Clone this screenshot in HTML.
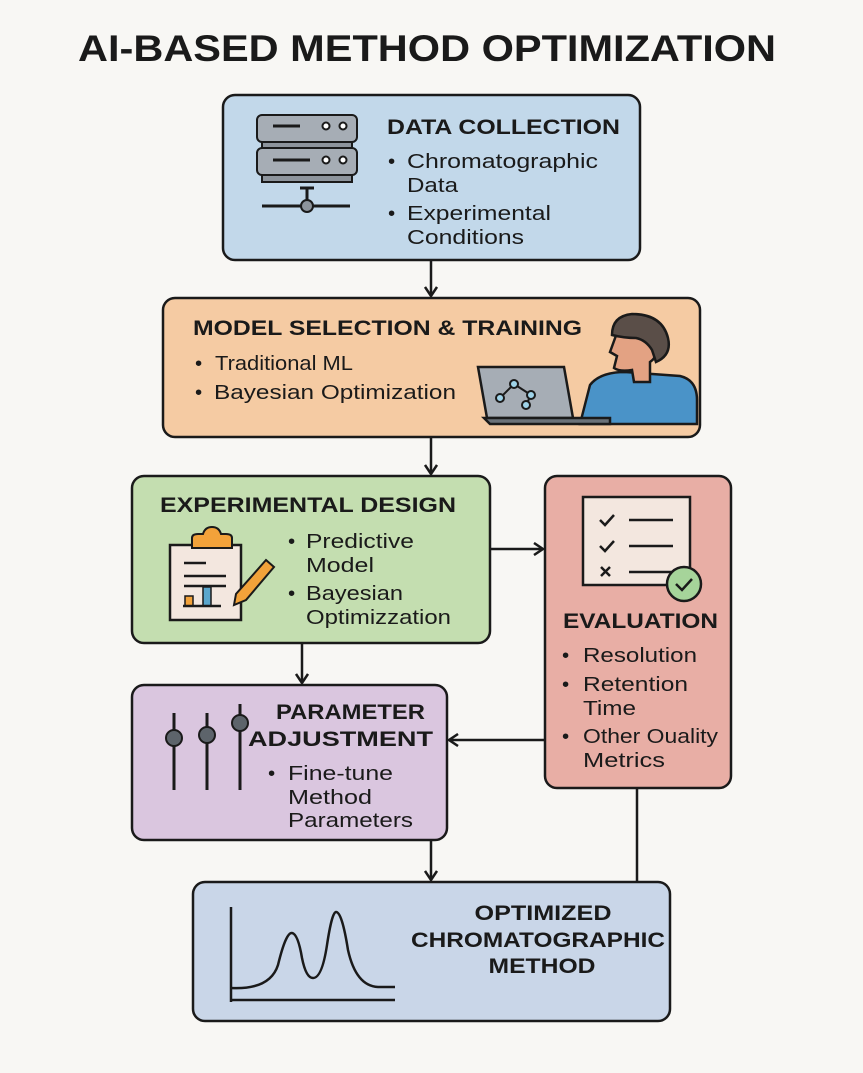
<!DOCTYPE html>
<html><head><meta charset="utf-8"><style>
html,body{margin:0;padding:0;background:#f8f7f4;}
svg{display:block;}
text{font-family:"Liberation Sans","DejaVu Sans",sans-serif;fill:#1a1a1a;}
.t{font-weight:bold;font-size:21px;}
.b{font-size:20.5px;}
</style></head><body>
<svg width="863" height="1073" viewBox="0 0 863 1073" xmlns="http://www.w3.org/2000/svg">
<rect width="863" height="1073" fill="#f8f7f4"/>
<defs>
<marker id="ar" markerWidth="14" markerHeight="14" refX="11" refY="7" orient="auto" markerUnits="userSpaceOnUse">
<path d="M2,1 L11,7 L2,13" fill="none" stroke="#1a1a1a" stroke-width="2.5"/>
</marker>
</defs>
<text x="427" y="61" text-anchor="middle" font-size="37" font-weight="bold" textLength="698" lengthAdjust="spacingAndGlyphs">AI-BASED METHOD OPTIMIZATION</text>

<g stroke="#1a1a1a" stroke-width="2.5" fill="none">
<line x1="431" y1="261" x2="431" y2="296" marker-end="url(#ar)"/>
<line x1="431" y1="438" x2="431" y2="474" marker-end="url(#ar)"/>
<line x1="490" y1="549" x2="543" y2="549" marker-end="url(#ar)"/>
<line x1="302" y1="644" x2="302" y2="683" marker-end="url(#ar)"/>
<line x1="545" y1="740" x2="449" y2="740" marker-end="url(#ar)"/>
<line x1="431" y1="841" x2="431" y2="880" marker-end="url(#ar)"/>
<line x1="637" y1="789" x2="637" y2="882"/>
</g>

<!-- Box 1 -->
<rect x="223" y="95" width="417" height="165" rx="12" fill="#c2d8ea" stroke="#1a1a1a" stroke-width="2.5"/>
<g stroke="#1a1a1a" stroke-width="2">
<rect x="262" y="135" width="90" height="16" fill="#8d949c"/>
<rect x="262" y="168" width="90" height="14" fill="#8d949c"/>
<rect x="257" y="115" width="100" height="27" rx="5" fill="#a6adb5"/>
<rect x="257" y="148" width="100" height="27" rx="5" fill="#a6adb5"/>
<line x1="273" y1="126" x2="300" y2="126" stroke-width="3"/>
<line x1="273" y1="160" x2="310" y2="160" stroke-width="3"/>
<circle cx="326" cy="126" r="3.5" fill="#fff"/><circle cx="343" cy="126" r="3.5" fill="#fff"/>
<circle cx="326" cy="160" r="3.5" fill="#fff"/><circle cx="343" cy="160" r="3.5" fill="#fff"/>
<line x1="307" y1="188" x2="307" y2="200" stroke-width="3"/>
<line x1="300" y1="188" x2="314" y2="188" stroke-width="3"/>
<line x1="262" y1="206" x2="350" y2="206" stroke-width="3"/>
<circle cx="307" cy="206" r="6" fill="#8d949c"/>
</g>
<text class="t" x="387" y="134" textLength="233" lengthAdjust="spacingAndGlyphs">DATA COLLECTION</text>
<text class="b" x="388" y="168">•</text><text class="b" x="407" y="168" textLength="191" lengthAdjust="spacingAndGlyphs">Chromatographic</text>
<text class="b" x="407" y="192" textLength="51" lengthAdjust="spacingAndGlyphs">Data</text>
<text class="b" x="388" y="220">•</text><text class="b" x="407" y="220" textLength="144" lengthAdjust="spacingAndGlyphs">Experimental</text>
<text class="b" x="407" y="244" textLength="117" lengthAdjust="spacingAndGlyphs">Conditions</text>

<!-- Box 2 -->
<rect x="163" y="298" width="537" height="139" rx="12" fill="#f5cba3" stroke="#1a1a1a" stroke-width="2.5"/>
<text class="t" x="193" y="335" textLength="389" lengthAdjust="spacingAndGlyphs">MODEL SELECTION &amp; TRAINING</text>
<text class="b" x="195" y="370">•</text><text class="b" x="215" y="370" textLength="138" lengthAdjust="spacingAndGlyphs">Traditional ML</text>
<text class="b" x="195" y="399">•</text><text class="b" x="214" y="399" textLength="242" lengthAdjust="spacingAndGlyphs">Bayesian Optimization</text>
<g stroke="#1a1a1a" stroke-width="2.5">
<path d="M580,424 L590,385 Q600,372 625,372 L680,376 Q697,380 697,400 L697,424 Z" fill="#4a93c8"/>
<path d="M618,330 L610,352 L617,356 L614,368 Q620,372 632,370 L634,382 L650,382 L650,362 Q660,355 655,345 Z" fill="#e3a283"/>
<path d="M612,335 Q612,316 632,314 Q662,314 668,338 Q672,355 656,362 L652,350 Q646,340 636,338 Q624,338 612,335 Z" fill="#5a4e48"/>
<path d="M478,367 L564,367 L573,418 L487,418 Z" fill="#a6adb5"/>
<path d="M484,418 L610,418 L610,424 L490,424 Z" fill="#6b7279"/>
</g>
<g stroke="#1a1a1a" stroke-width="2" fill="#9fd3e8">
<line x1="500" y1="398" x2="514" y2="384"/><line x1="514" y1="384" x2="531" y2="395"/><line x1="531" y1="395" x2="526" y2="405"/>
<circle cx="500" cy="398" r="4"/><circle cx="514" cy="384" r="4"/><circle cx="531" cy="395" r="4"/><circle cx="526" cy="405" r="4"/>
</g>

<!-- Box 3 -->
<rect x="132" y="476" width="358" height="167" rx="12" fill="#c4deb0" stroke="#1a1a1a" stroke-width="2.5"/>
<text class="t" x="160" y="512" textLength="296" lengthAdjust="spacingAndGlyphs">EXPERIMENTAL DESIGN</text>
<g stroke="#1a1a1a" stroke-width="2.5">
<rect x="170" y="545" width="71" height="75" fill="#f3e7df"/>
<path d="M192,548 L192,538 Q192,534 198,534 L203,534 Q205,527 212,527 Q219,527 221,534 L226,534 Q232,534 232,538 L232,548 Z" fill="#f2a23a" stroke-width="2"/>
<line x1="184" y1="563" x2="206" y2="563"/>
<line x1="184" y1="576" x2="226" y2="576"/>
<line x1="184" y1="586" x2="226" y2="586"/>
<rect x="185" y="596" width="8" height="10" fill="#f2a23a" stroke-width="1.5"/>
<rect x="203" y="587" width="8" height="19" fill="#5aa6cc" stroke-width="1.5"/>
<line x1="183" y1="606" x2="221" y2="606"/>
<path d="M266,560 L274,567 L246,600 L234,605 L236,594 Z" fill="#f2a23a" stroke-width="2"/>
</g>
<text class="b" x="288" y="548">•</text><text class="b" x="306" y="548" textLength="108" lengthAdjust="spacingAndGlyphs">Predictive</text>
<text class="b" x="306" y="572" textLength="68" lengthAdjust="spacingAndGlyphs">Model</text>
<text class="b" x="288" y="600">•</text><text class="b" x="306" y="600" textLength="97" lengthAdjust="spacingAndGlyphs">Bayesian</text>
<text class="b" x="306" y="624" textLength="145" lengthAdjust="spacingAndGlyphs">Optimizzation</text>

<!-- Box 4 -->
<rect x="545" y="476" width="186" height="312" rx="12" fill="#e8aea5" stroke="#1a1a1a" stroke-width="2.5"/>
<g stroke="#1a1a1a" stroke-width="2.5" fill="none">
<rect x="583" y="497" width="107" height="88" fill="#f3e7df"/>
<path d="M600,520 L605,525 L614,515"/>
<path d="M600,546 L605,551 L614,541"/>
<path d="M601,567 L610,576 M610,567 L601,576"/>
<line x1="629" y1="520" x2="673" y2="520"/>
<line x1="629" y1="546" x2="673" y2="546"/>
<line x1="629" y1="572" x2="673" y2="572"/>
<circle cx="684" cy="584" r="17" fill="#a6d49a"/>
<path d="M676,584 L682,590 L692,579"/>
</g>
<text class="t" x="563" y="628" font-size="22" textLength="155" lengthAdjust="spacingAndGlyphs">EVALUATION</text>
<text class="b" x="562" y="662">•</text><text class="b" x="583" y="662" textLength="114" lengthAdjust="spacingAndGlyphs">Resolution</text>
<text class="b" x="562" y="691">•</text><text class="b" x="583" y="691" textLength="105" lengthAdjust="spacingAndGlyphs">Retention</text>
<text class="b" x="583" y="715" textLength="53" lengthAdjust="spacingAndGlyphs">Time</text>
<text class="b" x="562" y="743">•</text><text class="b" x="583" y="743" textLength="135" lengthAdjust="spacingAndGlyphs">Other Ouality</text>
<text class="b" x="583" y="767" textLength="82" lengthAdjust="spacingAndGlyphs">Metrics</text>

<!-- Box 5 -->
<rect x="132" y="685" width="315" height="155" rx="12" fill="#dac6df" stroke="#1a1a1a" stroke-width="2.5"/>
<g stroke="#1a1a1a" stroke-width="3" fill="#5d646b">
<line x1="174" y1="713" x2="174" y2="790"/>
<line x1="207" y1="713" x2="207" y2="790"/>
<line x1="240" y1="704" x2="240" y2="790"/>
<circle cx="174" cy="738" r="8" stroke-width="2"/>
<circle cx="207" cy="735" r="8" stroke-width="2"/>
<circle cx="240" cy="723" r="8" stroke-width="2"/>
</g>
<text class="t" x="276" y="719" textLength="149" lengthAdjust="spacingAndGlyphs">PARAMETER</text>
<text class="t" x="248" y="746" textLength="185" lengthAdjust="spacingAndGlyphs">ADJUSTMENT</text>
<text class="b" x="268" y="780">•</text><text class="b" x="288" y="780" textLength="105" lengthAdjust="spacingAndGlyphs">Fine-tune</text>
<text class="b" x="288" y="804" textLength="84" lengthAdjust="spacingAndGlyphs">Method</text>
<text class="b" x="288" y="827" textLength="125" lengthAdjust="spacingAndGlyphs">Parameters</text>

<!-- Box 6 -->
<rect x="193" y="882" width="477" height="139" rx="12" fill="#c9d6e8" stroke="#1a1a1a" stroke-width="2.5"/>
<g stroke="#1a1a1a" stroke-width="2.5" fill="none">
<line x1="231" y1="907" x2="231" y2="1002"/>
<line x1="231" y1="1000" x2="395" y2="1000"/>
<path d="M231,988 Q270,990 278,965 Q286,932 292,933 Q298,934 302,958 Q306,978 313,978 Q322,978 327,945 Q332,912 336,912 Q342,912 348,950 Q356,986 378,987 L395,987"/>
</g>
<text class="t" x="543" y="920" text-anchor="middle" textLength="137" lengthAdjust="spacingAndGlyphs">OPTIMIZED</text>
<text class="t" x="538" y="947" text-anchor="middle" textLength="254" lengthAdjust="spacingAndGlyphs">CHROMATOGRAPHIC</text>
<text class="t" x="542" y="973" text-anchor="middle" textLength="107" lengthAdjust="spacingAndGlyphs">METHOD</text>
</svg>
</body></html>
